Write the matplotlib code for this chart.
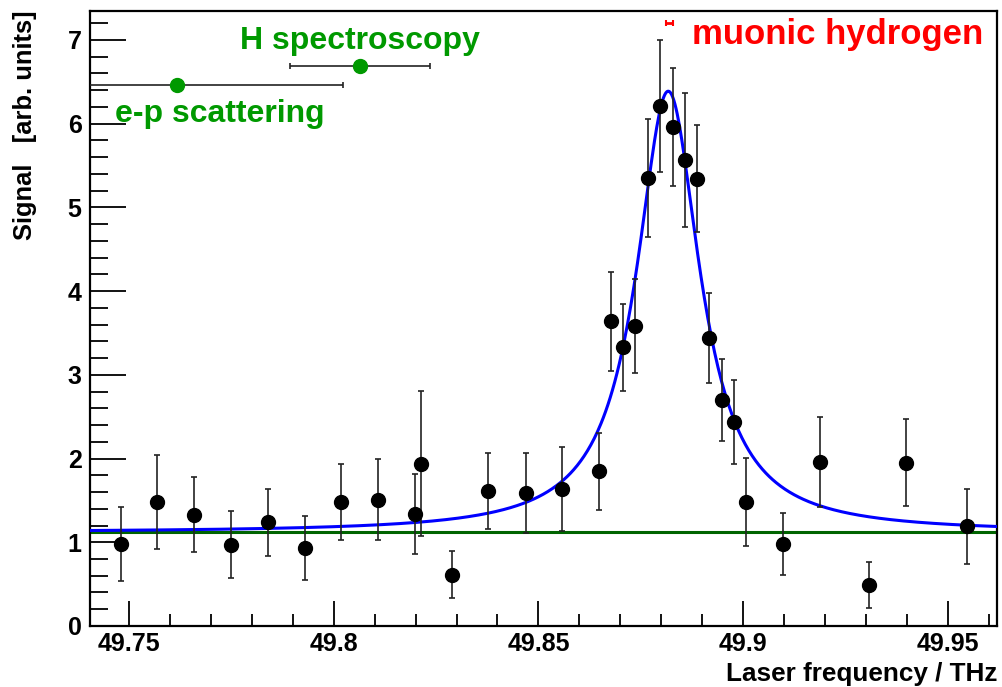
import numpy as np
import matplotlib
matplotlib.use("Agg")
import matplotlib.pyplot as plt
from matplotlib.ticker import MultipleLocator, FormatStrFormatter

plt.rcParams['font.family'] = ['Liberation Sans', 'DejaVu Sans']
plt.rcParams['font.weight'] = 'bold'

freq = [49.7480, 49.7569, 49.7659, 49.7749, 49.7840, 49.7929, 49.8018, 49.8108,
        49.8198, 49.8213, 49.8289, 49.8378, 49.8469, 49.8558, 49.8648, 49.8678,
        49.8707, 49.8737, 49.8768, 49.8797, 49.8828, 49.8858, 49.8888, 49.8917,
        49.8948, 49.8977, 49.9007, 49.9097, 49.9187, 49.9307, 49.9397, 49.9546]
signal = [0.98, 1.48, 1.33, 0.97, 1.24, 0.93, 1.48, 1.51,
          1.34, 1.94, 0.61, 1.61, 1.59, 1.64, 1.85, 3.64,
          3.33, 3.58, 5.35, 6.21, 5.96, 5.56, 5.34, 3.44,
          2.70, 2.44, 1.48, 0.98, 1.96, 0.49, 1.95, 1.19]
signal_err = [0.44, 0.56, 0.45, 0.40, 0.40, 0.385, 0.45, 0.48,
              0.48, 0.87, 0.28, 0.45, 0.48, 0.50, 0.46, 0.59,
              0.52, 0.56, 0.70, 0.79, 0.70, 0.80, 0.64, 0.535,
              0.49, 0.50, 0.525, 0.37, 0.54, 0.28, 0.52, 0.45]

# Lorentzian fit on a flat background
fit_background = 1.117
fit_amplitude = 5.27
fit_center = 49.8817
fit_fwhm = 0.0188

# proton radius predictions shown as frequency markers
ep_x, ep_xerr, ep_y = 49.7618, 0.0405, 6.464
hspec_x, hspec_xerr, hspec_y = 49.8064, 0.0171, 6.683
muh_x, muh_xerr, muh_y = 49.8819, 0.00085, 7.204

XMIN, XMAX = 49.7405, 49.9621
YMIN, YMAX = 0.0, 7.35

GREEN_TXT = '#009900'
GREEN_LINE = '#006400'

fig = plt.figure(figsize=(10.02, 6.87), dpi=100)
ax = fig.add_axes([0.0898, 0.0888, 0.9057, 0.8959])

xs = np.linspace(XMIN, XMAX, 800)
hw = fit_fwhm / 2
lor = fit_background + fit_amplitude * hw**2 / ((xs - fit_center)**2 + hw**2)
ax.axhline(fit_background, color=GREEN_LINE, lw=2.2, zorder=2)
ax.plot(xs, lor, color='#0000ff', lw=2.2, zorder=3)

ax.errorbar(freq, signal, yerr=signal_err, fmt='o', color='black',
            ecolor='#222222', elinewidth=1.2, capsize=2.2, capthick=1.2,
            markersize=10, zorder=4)

ax.errorbar([ep_x], [ep_y], xerr=[ep_xerr], fmt='o', color=GREEN_TXT,
            ecolor='#222222', elinewidth=1.2, capsize=2.2, capthick=1.2,
            markersize=10, zorder=4)
ax.errorbar([hspec_x], [hspec_y], xerr=[hspec_xerr], fmt='o', color=GREEN_TXT,
            ecolor='#222222', elinewidth=1.2, capsize=2.2, capthick=1.2,
            markersize=10, zorder=4)
ax.errorbar([muh_x], [muh_y], xerr=[muh_xerr], fmt='none', ecolor='red',
            elinewidth=2.0, capsize=2.5, capthick=1.5, zorder=4)

ax.text(49.7771, 6.886, 'H spectroscopy', color=GREEN_TXT, fontsize=23,
        fontweight='bold', va='baseline', ha='left')
ax.text(49.7467, 6.02, 'e-p scattering', color=GREEN_TXT, fontsize=23,
        fontweight='bold', va='baseline', ha='left')
ax.text(49.8875, 6.946, 'muonic hydrogen', color='red', fontsize=25,
        fontweight='bold', va='baseline', ha='left')

ax.set_xlim(XMIN, XMAX)
ax.set_ylim(YMIN, YMAX)
ax.xaxis.set_major_locator(MultipleLocator(0.05))
ax.xaxis.set_minor_locator(MultipleLocator(0.01))
ax.yaxis.set_major_locator(MultipleLocator(1))
ax.yaxis.set_minor_locator(MultipleLocator(0.2))
ax.xaxis.set_major_formatter(FormatStrFormatter('%g'))
ax.yaxis.set_major_formatter(FormatStrFormatter('%g'))

ax.tick_params(axis='both', which='both', direction='in', top=False, right=False,
               labelsize=18, width=1.3, color='black')
ax.tick_params(axis='x', which='major', length=18, pad=4)
ax.tick_params(axis='x', which='minor', length=9)
ax.tick_params(axis='y', which='major', length=26, pad=6)
ax.tick_params(axis='y', which='minor', length=13)
for lab in ax.get_xticklabels() + ax.get_yticklabels():
    lab.set_fontweight('bold')
for sp in ax.spines.values():
    sp.set_linewidth(1.6)

ax.set_xlabel('Laser frequency / THz', fontsize=18.8, fontweight='bold', loc='right')
ax.xaxis.set_label_coords(1.0, -0.058)
ax.set_ylabel('Signal   [arb. units]', fontsize=18.4, fontweight='bold', loc='top')
ax.yaxis.set_label_coords(-0.058, 1.0)

fig.savefig('out.png', dpi=100)
